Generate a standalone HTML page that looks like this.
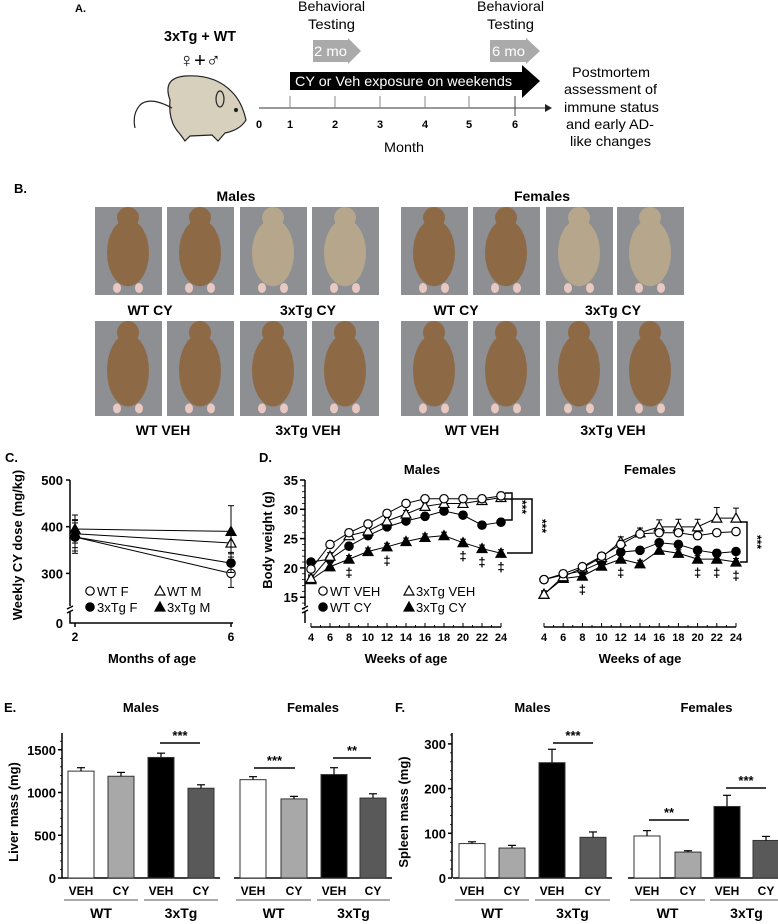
<!DOCTYPE html>
<html><head><meta charset="utf-8"><style>
html,body{margin:0;padding:0;background:#fff;}
svg{display:block;font-family:"Liberation Sans",Arial,sans-serif;}
.b{font-weight:bold;}
</style></head><body>
<svg id="fig" width="778" height="924" viewBox="0 0 778 924" xmlns="http://www.w3.org/2000/svg">
<!-- Panel A -->
<g>
<text x="75" y="12" class="b" font-size="11">A.</text>
<text x="164" y="41" class="b" font-size="15" textLength="72" lengthAdjust="spacingAndGlyphs">3xTg + WT</text>
<text x="200" y="67" text-anchor="middle" font-size="20">♀+♂</text>
<g stroke="#222" stroke-width="1.2">
<path d="M170,100 Q162,78 185,76 Q215,74 232,92 Q242,102 246,120 Q240,130 225,133 L218,141 L212,135 L190,136 L185,141 L180,134 Q168,122 170,100 Z" fill="#d6d0bd"/>
<path d="M172,108 Q150,96 140,105 Q132,114 135,128" fill="none"/>
<ellipse cx="220" cy="99" rx="4" ry="8" fill="#d6d0bd"/>
<circle cx="236" cy="110" r="1.5" fill="#222"/>
</g>
<line x1="259" y1="108" x2="545" y2="108" stroke="#999" stroke-width="2"/>
<polygon points="545,104 552,108 545,112" fill="#222"/>
<g font-size="11" class="b" text-anchor="middle">
<line x1="290" y1="96" x2="290" y2="108" stroke="#888"/><line x1="335" y1="96" x2="335" y2="108" stroke="#888"/><line x1="380" y1="96" x2="380" y2="108" stroke="#888"/><line x1="425" y1="96" x2="425" y2="108" stroke="#888"/><line x1="469" y1="96" x2="469" y2="108" stroke="#888"/><line x1="515" y1="96" x2="515" y2="116" stroke="#444"/>
<text x="259" y="128">0</text><text x="290" y="128">1</text><text x="335" y="128">2</text><text x="380" y="128">3</text><text x="425" y="128">4</text><text x="469" y="128">5</text><text x="515" y="128">6</text>
</g>
<text x="384" y="152" font-size="14" textLength="40" lengthAdjust="spacingAndGlyphs">Month</text>
<polygon points="290,72 522,72 522,65 540,81 522,98 522,90 290,90" fill="#000"/>
<text x="295" y="86" fill="#fff" font-size="14" textLength="217" lengthAdjust="spacingAndGlyphs">CY or Veh exposure on weekends</text>
<polygon points="313,40 348,40 348,38 361,51 348,64 348,62 313,62" fill="#aaa"/>
<text x="314" y="56" fill="#fff" font-size="14" textLength="33" lengthAdjust="spacingAndGlyphs">2 mo</text>
<polygon points="490,40 526,40 526,38 540,51 526,64 526,62 490,62" fill="#aaa"/>
<text x="492" y="56" fill="#fff" font-size="14" textLength="33" lengthAdjust="spacingAndGlyphs">6 mo</text>
<g font-size="14">
<text x="298" y="11" textLength="67" lengthAdjust="spacingAndGlyphs">Behavioral</text><text x="308" y="29" textLength="47" lengthAdjust="spacingAndGlyphs">Testing</text>
<text x="477" y="11" textLength="67" lengthAdjust="spacingAndGlyphs">Behavioral</text><text x="487" y="29" textLength="47" lengthAdjust="spacingAndGlyphs">Testing</text>
</g>
<g font-size="14">
<text x="572" y="77" textLength="78" lengthAdjust="spacingAndGlyphs">Postmortem</text>
<text x="564" y="94" textLength="93" lengthAdjust="spacingAndGlyphs">assessment of</text>
<text x="564" y="112" textLength="95" lengthAdjust="spacingAndGlyphs">immune status</text>
<text x="566" y="129" textLength="88" lengthAdjust="spacingAndGlyphs">and early AD-</text>
<text x="570" y="146" textLength="81" lengthAdjust="spacingAndGlyphs">like changes</text>
</g>
</g>
<!-- Panel B -->
<g>
<text x="14" y="193" class="b" font-size="13">B.</text>
<text x="236" y="201" text-anchor="middle" class="b" font-size="14">Males</text>
<text x="542" y="201" text-anchor="middle" class="b" font-size="14">Females</text>
<g id="photos"></g>
<g class="b" font-size="14" text-anchor="middle">
<text x="150" y="315">WT CY</text><text x="308" y="315">3xTg CY</text>
<text x="456" y="315">WT CY</text><text x="613" y="315">3xTg CY</text>
<text x="163" y="435">WT VEH</text><text x="308" y="435">3xTg VEH</text>
<text x="472" y="435">WT VEH</text><text x="613" y="435">3xTg VEH</text>
</g>
</g>
<g id="charts"></g>
<text x="5" y="462" class="b" font-size="13">C.</text>
<text x="259" y="462" class="b" font-size="13">D.</text>
<text x="4" y="712" class="b" font-size="13">E.</text>
<text x="395" y="712" class="b" font-size="13">F.</text>
</svg>
<script>
// ---- Panel C data ----
const cMonths = [2, 6];
const cWTF = [378, 300];
const cWTM = [385, 365];
const cTgF = [378, 322];
const cTgM = [395, 390];
const cErrWTF = [35, 30];
const cErrWTM = [30, 20];
const cErrTgF = [30, 20];
const cErrTgM = [30, 55];
const cTicks = [300, 400, 500];
// ---- Panel D data ----
const dWeeks = [4, 6, 8, 10, 12, 14, 16, 18, 20, 22, 24];
const dTicksX = [4, 6, 8, 10, 12, 14, 16, 18, 20, 22, 24];
const dTicksY = [15, 20, 25, 30, 35];
const mWTVEH = [19.8, 24, 26, 27.5, 29.3, 31, 31.8, 31.8, 31.8, 31.8, 32.3];
const mWTCY = [21, 21.5, 23.7, 25.5, 27, 28, 28.8, 29.7, 29, 27.3, 27.8];
const mTgVEH = [18.2, 22, 25.5, 26.3, 28, 29.2, 30.5, 31, 31, 31.5, 32];
const mTgCY = [18, 20.2, 21.5, 22.8, 23.6, 24.5, 25.2, 25.5, 24.3, 23.3, 22.5];
const fWTVEH = [18, 19, 20.2, 22, 24, 25.8, 26, 26, 25.5, 26, 26.2];
const fWTCY = [18, 18.8, 19.5, 21, 22.7, 23, 24.3, 24, 23, 22.5, 22.8];
const fTgVEH = [15.5, 18.5, 20, 21.8, 24.5, 26, 27, 27, 27, 28.5, 28.5];
const fTgCY = [15.5, 18.2, 18.6, 20.3, 21.5, 20.7, 23, 22.5, 21.5, 21.5, 21];
const fTgVEHerr = [0.4, 0.4, 0.5, 0.6, 0.8, 0.8, 1.2, 1.3, 1.3, 1.8, 1.7];
// ---- Panel E data ----
const eCats = ["VEH", "CY", "VEH", "CY"];
const eMales = [1250, 1190, 1410, 1050];
const eMalesErr = [40, 45, 50, 40];
const eFemales = [1150, 925, 1210, 935];
const eFemalesErr = [35, 30, 80, 50];
const eTicks = [0, 500, 1000, 1500];
// ---- Panel F data ----
const fMales = [77, 67, 258, 91];
const fMalesErr = [4, 6, 30, 12];
const fFemales = [94, 58, 160, 84];
const fFemalesErr = [12, 3, 25, 9];
const fTicks = [0, 100, 200, 300];
const barFills = ["#ffffff", "#a8a8a8", "#000000", "#595959"];

const NS = "http://www.w3.org/2000/svg";
const root = document.getElementById("charts");
function mk(tag, parent, attrs) {
  const e = document.createElementNS(NS, tag);
  for (const k in attrs) e.setAttribute(k, attrs[k]);
  parent.appendChild(e);
  return e;
}
function txt(parent, x, y, s, size, anchor, bold, rot) {
  const t = mk("text", parent, {x: x, y: y, "font-size": size, "text-anchor": anchor || "middle"});
  if (bold) t.setAttribute("font-weight", "bold");
  if (rot) t.setAttribute("transform", "rotate(-90 " + x + " " + y + ")");
  t.textContent = s;
  return t;
}
function marker(g, type, x, y) {
  let m;
  if (type === "oc" || type === "fc") {
    m = mk("circle", g, {cx: x, cy: y, r: 4.2, fill: type === "fc" ? "#000" : "#fff", stroke: "#000", "stroke-width": 1.2});
  } else {
    m = mk("polygon", g, {points: (x) + "," + (y - 5) + " " + (x + 5) + "," + (y + 4) + " " + (x - 5) + "," + (y + 4), fill: type === "ft" ? "#000" : "#fff", stroke: "#000", "stroke-width": 1.2});
  }
  return m;
}

// photos
(function () {
  const pg = document.getElementById("photos");
  const rows = [[207, 88], [321, 95]];
  const xs = [95, 167, 240, 312, 401, 473, 546, 617];
  rows.forEach(function (r, ri) {
    xs.forEach(function (x, i) {
      const g = mk("g", pg, {});
      
      
      mk("rect", g, {x: x, y: r[0], width: 67, height: r[1], fill: "#8e8f93"});
      const light = (ri === 0 && (i === 2 || i === 3 || i === 6 || i === 7));
      const col = light ? "#b5a68c" : "#8d6a45";
      mk("ellipse", g, {cx: x + 33, cy: r[0] + r[1] * 0.52, rx: 21, ry: r[1] * 0.38, fill: col});
      mk("ellipse", g, {cx: x + 33, cy: r[0] + r[1] * 0.12, rx: 11, ry: r[1] * 0.12, fill: col});
      mk("ellipse", g, {cx: x + 22, cy: r[0] + r[1] * 0.92, rx: 4, ry: 5, fill: "#e8c8c0"});
      mk("ellipse", g, {cx: x + 44, cy: r[0] + r[1] * 0.92, rx: 4, ry: 5, fill: "#e8c8c0"});
    });
  });
})();

// ---- Panel C ----
(function () {
  const g = mk("g", root, {});
  
  
  const yC = function (v) { return 480 + (500 - v) * 0.467; };
  const xC = function (m) { return 75 + (m - 2) * 39; };
  const ax = mk("path", g, {d: "M70,480 V606 M67,609 l6,-3 M67,613 l6,-3 M70,612 V623 H233", stroke: "#000", "stroke-width": 1.5, fill: "none"});
  
  
  cTicks.forEach(function (t) {
    mk("line", g, {x1: 66, x2: 70, y1: yC(t), y2: yC(t), stroke: "#000", "stroke-width": 1.5});
    const l = txt(g, 63, yC(t) + 5, String(t), 13, "end", true);
    
    
  });
  txt(g, 63, 628, "0", 13, "end", true);
  cMonths.forEach(function (m) {
    mk("line", g, {x1: xC(m), x2: xC(m), y1: 623, y2: 627, stroke: "#000", "stroke-width": 1.5});
    const l = txt(g, xC(m), 641, String(m), 12, "middle", true);
    
    
  });
  const xt = txt(g, 152, 663, "Months of age", 13, "middle", true);
  
  
  const yt = txt(g, 22, 545, "Weekly CY dose (mg/kg)", 13, "middle", true, true);
  
  
  const series = [[cWTF, cErrWTF, "oc"], [cWTM, cErrWTM, "ot"], [cTgF, cErrTgF, "fc"], [cTgM, cErrTgM, "ft"]];
  series.forEach(function (s) {
    const sg = mk("g", g, {});
    
    
    mk("polyline", sg, {points: cMonths.map(function (m, i) { return xC(m) + "," + yC(s[0][i]); }).join(" "), fill: "none", stroke: "#000", "stroke-width": 1});
    cMonths.forEach(function (m, i) {
      mk("line", sg, {x1: xC(m), x2: xC(m), y1: yC(s[0][i] + s[1][i]), y2: yC(s[0][i] - s[1][i]), stroke: "#000", "stroke-width": 1});
      mk("line", sg, {x1: xC(m) - 3, x2: xC(m) + 3, y1: yC(s[0][i] + s[1][i]), y2: yC(s[0][i] + s[1][i]), stroke: "#000", "stroke-width": 1});
      mk("line", sg, {x1: xC(m) - 3, x2: xC(m) + 3, y1: yC(s[0][i] - s[1][i]), y2: yC(s[0][i] - s[1][i]), stroke: "#000", "stroke-width": 1});
      const mm = marker(sg, s[2], xC(m), yC(s[0][i]));
      
      
    });
  });
  const lg = mk("g", g, {});
  
  
  marker(lg, "oc", 90, 591); txt(lg, 97, 596, "WT F", 13, "start");
  marker(lg, "ot", 160, 591); txt(lg, 167, 596, "WT M", 13, "start");
  marker(lg, "fc", 90, 607); txt(lg, 97, 612, "3xTg F", 13, "start");
  marker(lg, "ft", 160, 607); txt(lg, 167, 612, "3xTg M", 13, "start");
})();

// ---- Panel D ----
(function () {
  const g = mk("g", root, {});
  
  
  const yD = function (v) { return 480 + (35 - v) * 5.86; };
  const xDm = function (w) { return 311 + (w - 4) * 9.5; };
  const xDf = function (w) { return 544 + (w - 4) * 9.6; };
  const ya = mk("path", g, {d: "M305,480 V606 M302,609 l6,-3 M302,613 l6,-3 M305,612 V623", stroke: "#000", "stroke-width": 1.5, fill: "none"});
  
  
  for (let v = 13; v <= 35; v++) mk("line", g, {x1: 302, x2: 305, y1: yD(v), y2: yD(v), stroke: "#000", "stroke-width": 0.8});
  dTicksY.forEach(function (t) {
    mk("line", g, {x1: 300, x2: 305, y1: yD(t), y2: yD(t), stroke: "#000", "stroke-width": 1.5});
    const l = txt(g, 298, yD(t) + 5, String(t), 13, "end", true);
    
    
  });
  const yt = txt(g, 272, 540, "Body weight (g)", 13, "middle", true, true);
  
  
  [[xDm, "males", 422], [xDf, "females", 650]].forEach(function (p) {
    const xf = p[0];
    mk("line", g, {x1: xf(4), x2: xf(24), y1: 627, y2: 627, stroke: "#000", "stroke-width": 1.5});
    for (let w = 4; w <= 24; w++) mk("line", g, {x1: xf(w), x2: xf(w), y1: 627, y2: w % 2 === 0 ? 623 : 625, stroke: "#000", "stroke-width": 1});
    dTicksX.forEach(function (w) {
      const l = txt(g, xf(w), 641, String(w), 11, "middle", true);
      
      
    });
    const xt = txt(g, (xf(4) + xf(24)) / 2, 663, "Weeks of age", 13, "middle", true);
    
    
    const tt = txt(g, p[2], 474, p[1] === "males" ? "Males" : "Females", 13, "middle", true);
    
    
  });
  const sets = [
    [xDm, mWTCY, "fc", null], [xDm, mTgCY, "ft", null], [xDm, mTgVEH, "ot", null], [xDm, mWTVEH, "oc", null],
    [xDf, fWTCY, "fc", null], [xDf, fTgCY, "ft", null], [xDf, fTgVEH, "ot", fTgVEHerr], [xDf, fWTVEH, "oc", null]
  ];
  sets.forEach(function (s) {
    const sg = mk("g", g, {});
    
    
    mk("polyline", sg, {points: dWeeks.map(function (w, i) { return s[0](w) + "," + yD(s[1][i]); }).join(" "), fill: "none", stroke: "#000", "stroke-width": 1});
    dWeeks.forEach(function (w, i) {
      const e = s[3] ? s[3][i] : 0.6;
      const x = s[0](w);
      mk("line", sg, {x1: x, x2: x, y1: yD(s[1][i] + e), y2: yD(s[1][i]), stroke: "#000", "stroke-width": 1});
      mk("line", sg, {x1: x - 3, x2: x + 3, y1: yD(s[1][i] + e), y2: yD(s[1][i] + e), stroke: "#000", "stroke-width": 1});
      const mm = marker(sg, s[2], x, yD(s[1][i]));
      
      
    });
  });
  const sig = mk("g", g, {stroke: "#000", "stroke-width": 1.5, fill: "none"});
  
  
  mk("path", sig, {d: "M505,493 H512 V520 H505"});
  mk("path", sig, {d: "M505,499 H532 V553 H507"});
  mk("path", sig, {d: "M740,522 H747 V562 H740"});
  const st = mk("g", g, {"font-size": 12, "font-weight": "bold"});
  
  
  txt(st, 518, 507, "***", 12, "middle", true).setAttribute("transform", "rotate(90 518 507)");
  txt(st, 538, 526, "***", 12, "middle", true).setAttribute("transform", "rotate(90 538 526)");
  txt(st, 753, 542, "***", 12, "middle", true).setAttribute("transform", "rotate(90 753 542)");
  const dag = [[xDm, [8, 12, 20, 22, 24], mTgCY], [xDf, [8, 12, 20, 22, 24], fTgCY]];
  dag.forEach(function (d) {
    d[1].forEach(function (w) {
      const i = dWeeks.indexOf(w);
      const t = txt(g, d[0](w), yD(d[2][i]) + 18, "‡", 13, "middle", true);
      
      
    });
  });
  const lg = mk("g", g, {});
  
  
  marker(lg, "oc", 323, 591); txt(lg, 330, 596, "WT VEH", 13, "start");
  marker(lg, "ot", 409, 591); txt(lg, 416, 596, "3xTg VEH", 13, "start");
  marker(lg, "fc", 323, 607); txt(lg, 330, 612, "WT CY", 13, "start");
  marker(lg, "ft", 409, 607); txt(lg, 416, 612, "3xTg CY", 13, "start");
})();

// ---- Bar panels ----
function barPanel(name, axisX, yf, ticks, title, malesVals, malesErr, femVals, femErr, mX, fX, sigs) {
  const g = mk("g", root, {});
  
  
  const ya = mk("line", g, {x1: axisX, x2: axisX, y1: 733, y2: 878, stroke: "#000", "stroke-width": 1.5});
  
  
  const step = ticks[1] / 5;
  for (let v = 0; yf(v) >= 733; v += step) mk("line", g, {x1: axisX - 2, x2: axisX, y1: yf(v), y2: yf(v), stroke: "#000", "stroke-width": 0.8});
  ticks.forEach(function (t) {
    mk("line", g, {x1: axisX - 4, x2: axisX, y1: yf(t), y2: yf(t), stroke: "#000", "stroke-width": 1.5});
    const l = txt(g, axisX - 6, yf(t) + 5, String(t), 13, "end", true);
    
    
  });
  const yt = txt(g, axisX - 44, 812, title, 13, "middle", true, true);
  
  
  [[malesVals, malesErr, mX, "Males"], [femVals, femErr, fX, "Females"]].forEach(function (grp) {
    const x0 = grp[2][0] - 6, x1 = grp[2][3] + 32;
    mk("line", g, {x1: x0, x2: x1, y1: 878, y2: 878, stroke: "#000", "stroke-width": 1.5});
    const h = txt(g, (x0 + x1) / 2, 712, grp[3], 13, "middle", true);
    
    
    grp[0].forEach(function (v, i) {
      const x = grp[2][i];
      const r = mk("rect", g, {x: x, y: yf(v), width: 26, height: 878 - yf(v), fill: barFills[i], stroke: "#333", "stroke-width": 1});
      
      
      const e = grp[1][i];
      mk("line", g, {x1: x + 13, x2: x + 13, y1: yf(v + e), y2: yf(v), stroke: "#000", "stroke-width": 1.2});
      mk("line", g, {x1: x + 9, x2: x + 17, y1: yf(v + e), y2: yf(v + e), stroke: "#000", "stroke-width": 1.2});
      const c = txt(g, x + 13, 895, eCats[i], 12, "middle", true);
      
      
    });
    [[0, "WT"], [2, "3xTg"]].forEach(function (p) {
      const a = grp[2][p[0]] - 4, b = grp[2][p[0] + 1] + 30;
      mk("line", g, {x1: a, x2: b, y1: 900, y2: 900, stroke: "#555", "stroke-width": 1});
      const l = txt(g, (a + b) / 2, 918, p[1], 14, "middle", true);
      
      
    });
  });
  sigs.forEach(function (s) {
    const sl = mk("line", g, {x1: s[0], x2: s[1], y1: s[2], y2: s[2], stroke: "#000", "stroke-width": 1.5});
    
    
    const st = txt(g, (s[0] + s[1]) / 2, s[2] - 3, s[3], 13, "middle", true);
    
    
  });
}
barPanel("liver", 62, function (v) { return 878 - v * 0.0855; }, eTicks, "Liver mass (mg)",
  eMales, eMalesErr, eFemales, eFemalesErr, [68, 108, 148, 188], [240, 281, 321, 360],
  [[160, 200, 743, "***"], [254, 295, 768, "***"], [333, 371, 758, "**"]]);
barPanel("spleen", 452, function (v) { return 878 - v * 0.447; }, fTicks, "Spleen mass (mg)",
  fMales, fMalesErr, fFemales, fFemalesErr, [459, 499, 539, 580], [634, 675, 714, 753],
  [[553, 593, 743, "***"], [649, 689, 820, "**"], [726, 766, 788, "***"]]);
</script>
</body></html>
